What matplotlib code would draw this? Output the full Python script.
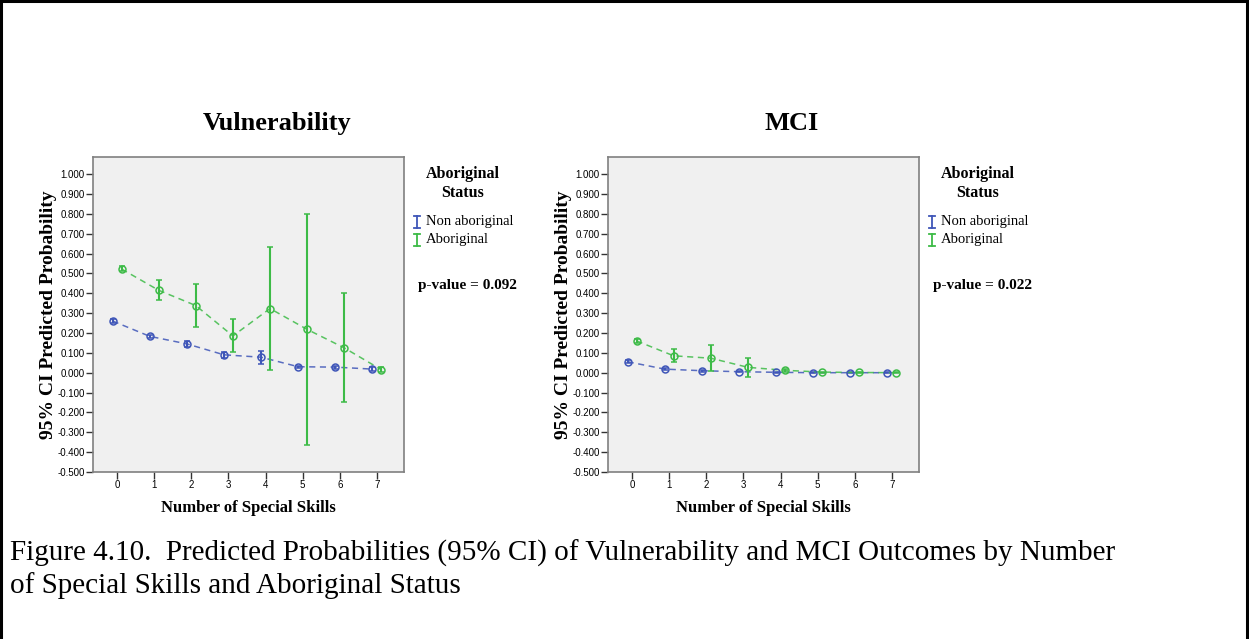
import numpy as np
import matplotlib
matplotlib.use('Agg')
import matplotlib.pyplot as plt
from matplotlib.patches import Rectangle
from matplotlib.lines import Line2D
from matplotlib.ticker import FormatStrFormatter, MultipleLocator

# skills count on the x axis
skills = [0, 1, 2, 3, 4, 5, 6, 7]

# Vulnerability: predicted probability and 95% CI bounds
vul_non = [0.260, 0.183, 0.145, 0.090, 0.078, 0.030, 0.028, 0.018]
vul_non_lo = [0.252, 0.175, 0.130, 0.075, 0.045, 0.024, 0.020, 0.008]
vul_non_hi = [0.268, 0.191, 0.160, 0.105, 0.108, 0.036, 0.036, 0.030]
vul_abo = [0.522, 0.415, 0.338, 0.185, 0.323, 0.218, 0.125, 0.015]
vul_abo_lo = [0.510, 0.365, 0.228, 0.102, 0.015, -0.365, -0.150, 0.003]
vul_abo_hi = [0.535, 0.467, 0.447, 0.268, 0.632, 0.800, 0.403, 0.030]

# MCI: predicted probability and 95% CI bounds
mci_non = [0.055, 0.018, 0.010, 0.005, 0.002, 0.000, 0.000, 0.000]
mci_non_lo = [0.048, 0.013, 0.006, 0.002, 0.000, 0.000, 0.000, 0.000]
mci_non_hi = [0.062, 0.023, 0.014, 0.008, 0.004, 0.001, 0.001, 0.001]
mci_abo = [0.160, 0.085, 0.073, 0.027, 0.012, 0.003, 0.001, 0.000]
mci_abo_lo = [0.152, 0.055, 0.010, -0.022, 0.003, 0.000, 0.000, 0.000]
mci_abo_hi = [0.168, 0.118, 0.138, 0.076, 0.020, 0.006, 0.002, 0.001]

group_labels = ['Non aboriginal', 'Aboriginal']
p_values = ['0.092', '0.022']
titles = ['Vulnerability', 'MCI']

blue = '#3f56b8'
green = '#3dbb47'
serif = ['Liberation Serif', 'DejaVu Serif']

W, H = 1249, 639
fig = plt.figure(figsize=(W / 100, H / 100), dpi=100)

def fx(px):
    return px / W

def fy(py):
    return 1 - py / H

# outer frame of the figure box
fig.add_artist(Rectangle((fx(1), -0.05), fx(1246), 1.05 - 1 / H, transform=fig.transFigure,
                         fill=False, edgecolor='black', linewidth=2.2))

panels = [
    (93, titles[0], p_values[0],
     (vul_non, vul_non_lo, vul_non_hi), (vul_abo, vul_abo_lo, vul_abo_hi)),
    (608, titles[1], p_values[1],
     (mci_non, mci_non_lo, mci_non_hi), (mci_abo, mci_abo_lo, mci_abo_hi)),
]

x = np.array(skills, dtype=float)
dodge = 0.12

for left, title, pval, non, abo in panels:
    ax = fig.add_axes([fx(left), fy(472), fx(311), (472 - 157) / H])
    ax.set_facecolor('#f0f0f0')
    for s in ax.spines.values():
        s.set_color('#808080')
        s.set_linewidth(1.2)

    for (vals, lo, hi), shift, col in [(non, -dodge, blue), (abo, dodge, green)]:
        v = np.array(vals)
        err = [v - np.array(lo), np.array(hi) - v]
        ax.plot(x + shift, v, linestyle=(0, (4, 3)), color=col, linewidth=1.1, alpha=0.85)
        ax.errorbar(x + shift, v, yerr=err, fmt='o', mfc='none', mec=col, ms=5,
                    mew=1.1, ecolor=col, elinewidth=1.5, capsize=2, capthick=1.5)

    ax.set_xlim(-0.65, 7.73)
    ax.set_ylim(-0.5, 1.086)
    ax.set_xticks(skills)
    ax.yaxis.set_major_locator(MultipleLocator(0.1))
    ax.yaxis.set_major_formatter(FormatStrFormatter('%.3f'))
    ax.tick_params(axis='both', length=5, width=1, color='#333333', labelsize=7, pad=1)
    for lab in ax.get_xticklabels() + ax.get_yticklabels():
        lab.set_family(['Liberation Sans Narrow', 'Liberation Sans', 'DejaVu Sans'])

    ax.set_ylabel('95% CI Predicted Probability', family=serif, fontweight='bold',
                  fontsize=14, labelpad=0)
    ax.set_xlabel('Number of Special Skills', family=serif, fontweight='bold',
                  fontsize=12, labelpad=7)

    cx = left + 184
    fig.text(fx(cx), fy(130), title, family=serif, fontweight='bold', fontsize=19,
             ha='center', va='baseline')

    # legend block to the right of each panel
    lx = left + 370
    fig.text(fx(lx), fy(174), 'Aboriginal', family=serif, fontweight='bold', fontsize=11.5,
             ha='center', va='center')
    fig.text(fx(lx), fy(193), 'Status', family=serif, fontweight='bold', fontsize=11.5,
             ha='center', va='center')
    for i, (lab, col) in enumerate(zip(group_labels, [blue, green])):
        yy = 222 + 18 * i
        ix = left + 324
        fig.add_artist(Line2D([fx(ix), fx(ix)], [fy(yy - 6), fy(yy + 6)], color=col, lw=1.3))
        for cap in (yy - 6, yy + 6):
            fig.add_artist(Line2D([fx(ix - 3), fx(ix + 3)], [fy(cap), fy(cap)], color=col, lw=1.3))
        fig.text(fx(left + 333), fy(yy), lab, family=serif, fontsize=10.5,
                 ha='left', va='center')
    fig.text(fx(left + 325), fy(285), 'p-value = ' + pval, family=serif, fontweight='bold',
             fontsize=11, ha='left', va='center')

fig.text(fx(10), fy(561),
         'Figure 4.10.  Predicted Probabilities (95% CI) of Vulnerability and MCI Outcomes by Number',
         family=serif, fontsize=21, ha='left', va='baseline')
fig.text(fx(10), fy(593), 'of Special Skills and Aboriginal Status',
         family=serif, fontsize=21, ha='left', va='baseline')

fig.savefig('out.png', dpi=100)
